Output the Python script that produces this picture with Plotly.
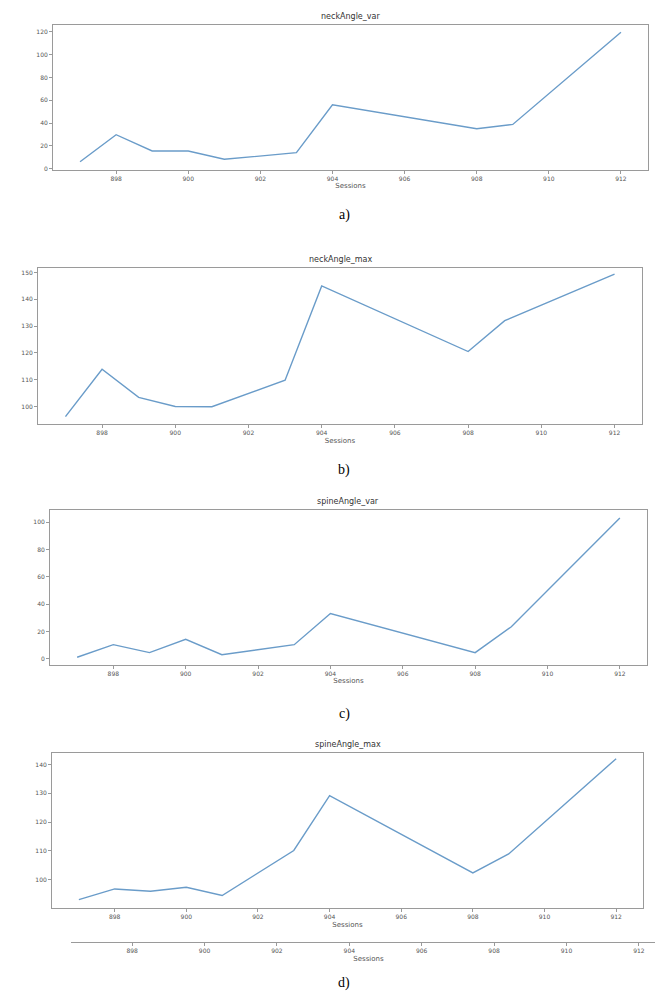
import plotly.graph_objects as go

W, H = 663, 991

sessions = [897, 898, 899, 900, 901, 903, 904, 908, 909, 912]
neck_var = [6.1, 29.8, 15.5, 15.5, 8.2, 14.0, 56.0, 35.0, 38.8, 119.7]
neck_max = [96.2, 113.9, 103.4, 100.0, 99.9, 109.8, 145.0, 120.5, 132.0, 149.4]
spine_var = [1.2, 10.4, 4.6, 14.3, 3.1, 10.4, 33.2, 4.6, 23.5, 103.0]
spine_max = [93.0, 96.7, 95.9, 97.3, 94.4, 110.1, 129.2, 102.3, 108.9, 142.1]

titles = ["neckAngle_var", "neckAngle_max", "spineAngle_var", "spineAngle_max"]
captions = ["a)", "b)", "c)", "d)"]
x_ticks = [898, 900, 902, 904, 906, 908, 910, 912]
y_ticks = [[0, 20, 40, 60, 80, 100, 120],
           [100, 110, 120, 130, 140, 150],
           [0, 20, 40, 60, 80, 100],
           [100, 110, 120, 130, 140]]
series = [neck_var, neck_max, spine_var, spine_max]

# layout in pixels: (left, right, top, bottom)
frames = [(45, 640, 17, 162), (30, 634, 261, 417), (42, 639, 503, 658), (44, 635, 747, 902)]
y_ranges = [[-0.9, 126.1], [93.4, 151.5], [-4.2, 108.8], [90.0, 143.9]]
x_range = [896.25, 912.75]
caption_y = [207, 463, 707, 977]

def px(x):
    return x / W

def py(y):
    return 1 - y / H

LINE = "#6a9cc9"
AX = "#9a9a9a"
TXT = "#555555"
FONT = "DejaVu Sans"

fig = go.Figure()
layout = dict(width=W, height=H, margin=dict(l=0, r=0, t=0, b=0),
              paper_bgcolor="white", plot_bgcolor="white", showlegend=False)
annotations = []

for i in range(4):
    n = "" if i == 0 else str(i + 1)
    l, r, t, b = frames[i]
    fig.add_trace(go.Scatter(x=sessions, y=series[i], mode="lines",
                             line=dict(color=LINE, width=1.4),
                             xaxis="x" + n, yaxis="y" + n))
    layout["xaxis" + n] = dict(domain=[px(l), px(r)], range=x_range, anchor="y" + n,
                               tickvals=x_ticks, ticks="outside", ticklen=3, tickcolor=AX,
                               showline=True, linecolor=AX, linewidth=1, mirror=True,
                               showgrid=False, zeroline=False,
                               tickfont=dict(family=FONT, size=6, color=TXT),
                               title=dict(text="Sessions", standoff=2,
                                          font=dict(family=FONT, size=7, color=TXT)))
    layout["yaxis" + n] = dict(domain=[py(b), py(t)], range=y_ranges[i], anchor="x" + n,
                               tickvals=y_ticks[i], ticks="outside", ticklen=3, tickcolor=AX,
                               showline=True, linecolor=AX, linewidth=1, mirror=True,
                               showgrid=False, zeroline=False,
                               tickfont=dict(family=FONT, size=6, color=TXT))
    annotations.append(dict(text=titles[i], x=px((l + r) / 2), y=py(t - 2),
                            xref="paper", yref="paper", xanchor="center", yanchor="bottom",
                            showarrow=False, font=dict(family=FONT, size=8, color="#333333")))
    annotations.append(dict(text=captions[i], x=px(336), y=py(caption_y[i]),
                            xref="paper", yref="paper", xanchor="center", yanchor="middle",
                            showarrow=False, font=dict(family="Liberation Serif", size=14, color="black")))

# stray axis remnant below panel d
fig.add_trace(go.Scatter(x=[sessions[0]], y=[0], mode="markers", marker=dict(opacity=0),
                         xaxis="x5", yaxis="y5", hoverinfo="skip"))
layout["xaxis5"] = dict(domain=[px(63), px(658)], range=[896.31, 912.75], anchor="y5",
                        tickvals=x_ticks, ticks="outside", ticklen=3, tickcolor=AX,
                        showline=True, linecolor=AX, linewidth=1, mirror=False,
                        showgrid=False, zeroline=False,
                        tickfont=dict(family=FONT, size=6, color=TXT),
                        title=dict(text="Sessions", standoff=2,
                                   font=dict(family=FONT, size=7, color=TXT)))
layout["yaxis5"] = dict(domain=[py(936), py(934)], visible=False, range=[0, 1], anchor="x5")
layout["annotations"] = annotations

fig.update_layout(**layout)
fig.write_html("out.html")
